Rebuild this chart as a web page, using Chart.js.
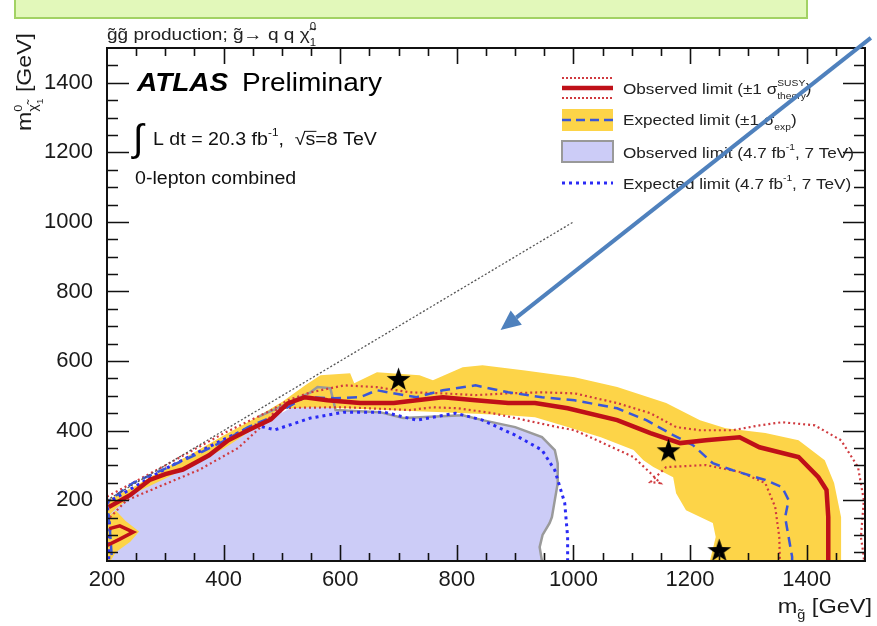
<!DOCTYPE html>
<html><head><meta charset="utf-8">
<script src="https://cdn.jsdelivr.net/npm/chart.js@4.4.1/dist/chart.umd.min.js"></script>
<style>
html,body{margin:0;padding:0;background:#fff;}
#wrap{position:relative;width:877px;height:626px;overflow:hidden;background:#fff;}
#box{position:absolute;left:14px;top:-3px;width:790px;height:18px;background:#e2f8ba;border:2px solid #a2d264;}
canvas{position:absolute;left:0;top:0;}
</style></head><body>
<div id="wrap"><div id="box"></div><canvas id="c" width="877" height="626"></canvas></div>
<script>
// ---- tick labels ----
const xTickLabels = [200,400,600,800,1000,1200,1400];
const yTickLabels = [200,400,600,800,1000,1200,1400];

// ---- contours: [m_gluino, m_neutralino] in GeV ----
const obs7TeV = [[200,25],[200,185],[250,235],[300,272],[350,320],[400,365],[450,405],[480,432],[520,470],[549,510],[561,525],[583,522],[592,459],[668,453],[708,436],[810,444],[844,430],[900,410],[946,381],[968,344],[973,306],[973,249],[968,200],[963,151],[959,134],[947,100],[942,65],[946,25]];
const obs7TeVEdge = [[460,440],[500,470],[549,510],[561,525],[583,522],[592,459],[668,453],[708,436],[810,444],[844,430],[900,410],[946,381],[968,344],[973,306],[973,249],[968,200],[963,151],[959,134],[947,100],[942,65],[946,25]];
const exp7TeV = [[203,30],[205,120],[200,192],[302,292],[397,372],[454,416],[488,402],[549,436],[607,453],[675,453],[731,430],[798,450],[844,430],[900,387],[946,344],[968,286],[985,192],[990,94],[990,25]];
const expBand = [[200,150],[200,200],[250,242],[300,292],[350,338],[400,386],[450,432],[500,482],[540,530],[566,559],[617,565],[624,536],[663,568],[736,559],[759,545],[810,582],[844,588],[917,573],[1002,553],[1075,525],[1159,479],[1217,430],[1261,407],[1329,393],[1386,372],[1431,315],[1447,249],[1459,151],[1459,25],[1234,25],[1244,94],[1239,134],[1193,171],[1176,220],[1171,266],[1137,295],[1120,315],[1103,344],[1047,381],[990,410],[934,438],[888,444],[776,453],[680,459],[607,464],[549,467],[493,462],[470,420],[440,392],[400,348],[350,305],[300,262],[250,222],[215,175]];
const expBandLow = [[200,25],[200,150],[215,170],[232,140],[255,110],[240,80],[215,50],[206,25]];
const exp8TeV = [[208,42],[205,114],[200,194],[244,249],[302,292],[358,335],[403,372],[442,410],[481,438],[539,496],[590,493],[634,496],[663,516],[708,502],[731,496],[776,516],[832,530],[888,510],[946,496],[1002,487],[1075,464],[1125,430],[1171,387],[1205,358],[1239,306],[1273,286],[1329,258],[1358,237],[1369,200],[1363,151],[1369,94],[1375,37],[1375,25]];
const obs8TeV = [[203,180],[240,215],[273,258],[300,275],[330,288],[375,329],[408,372],[442,401],[481,432],[510,478],[539,496],[578,487],[634,479],[692,479],[731,487],[776,496],[832,487],[888,479],[934,479],[990,464],[1075,430],[1132,393],[1183,364],[1227,372],[1285,381],[1319,352],[1386,324],[1420,266],[1434,229],[1437,151],[1437,25]];
const obs8TeVLoop = [[200,70],[222,88],[245,108],[222,126],[204,118]];
const obs8TeVUp = [[200,210],[300,300],[400,392],[481,458],[510,487],[549,510],[607,530],[663,525],[719,510],[776,507],[832,502],[888,507],[946,510],[1002,507],[1075,479],[1132,450],[1176,410],[1217,401],[1273,401],[1319,415],[1358,424],[1414,415],[1459,372],[1488,295],[1498,200],[1493,94],[1498,37],[1498,25]];
const obs8TeVDown = [[205,150],[234,200],[358,287],[425,350],[470,420],[493,465],[607,467],[719,459],[759,467],[803,464],[861,450],[917,430],[973,410],[1002,401],[1047,367],[1103,324],[1132,278],[1149,249],[1132,252],[1159,295],[1227,301],[1285,281],[1329,249],[1346,180],[1353,94],[1354,25]];
const kinematicLimit = [[200,200],[1000,1000]];
const benchmarkStars = [[700,550],[1163,345],[1250,58]];
const arrowFrom = [1510,1529];
const arrowTo = [875,689];

const FONT = '"Liberation Sans", Arial, Helvetica, sans-serif';
const toXY = a => a.map(p => ({x:p[0], y:p[1]}));
const T = 'rgba(0,0,0,0)';
function line(data, o){ return Object.assign({data: toXY(data), pointRadius:0, pointHoverRadius:0, fill:false, tension:0, borderColor:T, backgroundColor:T, borderWidth:0}, o); }

function makeStar(r){
  const s = Math.ceil(r*2+2), c = document.createElement('canvas'); c.width = c.height = s;
  const g = c.getContext('2d'); g.fillStyle = '#000'; g.beginPath();
  for (let i=0;i<10;i++){ const rr = i%2 ? r*0.4 : r; const a = -Math.PI/2 + i*Math.PI/5; g.lineTo(s/2 + rr*Math.cos(a), s/2 + 1.5 + rr*Math.sin(a)); }
  g.closePath(); g.fill(); return c;
}
const starImg = makeStar(12.5);

// rich text: parts [{t, s, dy, w, keep, over}]
function rich(ctx, x, y, parts, size, stretch, color, align){
  ctx.save(); ctx.translate(x, y); ctx.scale(stretch, 1); ctx.fillStyle = color; ctx.strokeStyle = color; ctx.textBaseline = 'alphabetic'; ctx.textAlign = 'left';
  const f = p => (p.w ? p.w + ' ' : '') + (size*(p.s||1)).toFixed(1) + 'px ' + FONT;
  let total = 0, pend = 0;
  parts.forEach(p => { ctx.font = f(p); const w = ctx.measureText(p.t).width; if (p.keep) pend = w; else { total += Math.max(w, pend); pend = 0; } });
  let cx = align === 'right' ? -total : 0; pend = 0;
  parts.forEach(p => {
    ctx.font = f(p); const w = ctx.measureText(p.t).width; const yy = (p.dy||0)*size;
    ctx.fillText(p.t, cx, yy);
    if (p.over){ ctx.lineWidth = 1; ctx.beginPath(); ctx.moveTo(cx-1, yy - size*0.78); ctx.lineTo(cx + w + 1, yy - size*0.78); ctx.stroke(); }
    if (p.keep) pend = w; else { cx += Math.max(w, pend); pend = 0; }
  });
  ctx.restore();
}

const deco = {
  id:'deco',
  afterDraw(chart){
    const ctx = chart.ctx, a = chart.chartArea, sx = chart.scales.x, sy = chart.scales.y;
    ctx.save();
    // frame
    ctx.strokeStyle = '#111'; ctx.lineWidth = 2;
    ctx.strokeRect(a.left, a.top, a.right - a.left, a.bottom - a.top);
    ctx.lineWidth = 1.6; ctx.beginPath();
    for (let v = 250; v < 1500; v += 50){
      const px = Math.round(sx.getPixelForValue(v)) + 0.5; const L = v % 200 === 0 ? 16 : 8;
      ctx.moveTo(px, a.bottom); ctx.lineTo(px, a.bottom - L);
      ctx.moveTo(px, a.top); ctx.lineTo(px, a.top + L);
    }
    for (let v = 50; v < 1500; v += 50){
      const py = Math.round(sy.getPixelForValue(v)) + 0.5; const L = v % 200 === 0 ? 22 : 11;
      ctx.moveTo(a.left, py); ctx.lineTo(a.left + L, py);
      ctx.moveTo(a.right, py); ctx.lineTo(a.right - L, py);
    }
    ctx.stroke();

    // header
    rich(ctx, 107, 40, [{t:'g\u0303g\u0303 production; g\u0303\u2192 q q \u03C7\u0303'},{t:'0', s:0.6, dy:-0.6, keep:true},{t:'1', s:0.6, dy:0.35}], 17, 1.12, '#222');
    // axis titles
    rich(ctx, 872, 613, [{t:'m'},{t:'g\u0303', s:0.62, dy:0.3},{t:' [GeV]'}], 21, 1.12, '#1a1a1a', 'right');
    ctx.save(); ctx.translate(31, 33); ctx.rotate(-Math.PI/2);
    rich(ctx, 0, 0, [{t:'m'},{t:'0', s:0.55, dy:-0.45, keep:true},{t:'\u03C7\u0303', s:0.62, dy:0.3},{t:'1', s:0.45, dy:0.55},{t:' [GeV]'}], 21, 1.1, '#1a1a1a', 'right');
    ctx.restore();

    // ATLAS label
    rich(ctx, 137, 91, [{t:'ATLAS', w:'italic bold'}], 25, 1.12, '#000');
    rich(ctx, 242, 91, [{t:'Preliminary'}], 25, 1.12, '#000');
    ctx.save(); ctx.fillStyle = '#000'; ctx.font = '38px ' + FONT; ctx.fillText('\u222B', 133, 151); ctx.restore();
    rich(ctx, 153, 145, [{t:'L dt = 20.3 fb'},{t:'-1', s:0.6, dy:-0.5},{t:',  \u221A'},{t:'s', over:true},{t:'=8 TeV'}], 17.5, 1.12, '#111');
    rich(ctx, 135, 184, [{t:'0-lepton combined'}], 17.5, 1.12, '#111');

    // legend
    const lx0 = 562, lx1 = 613;
    ctx.lineCap = 'butt';
    ctx.setLineDash([2,2]); ctx.strokeStyle = '#d03a3f'; ctx.lineWidth = 2;
    ctx.beginPath(); ctx.moveTo(lx0, 78); ctx.lineTo(lx1, 78); ctx.moveTo(lx0, 98); ctx.lineTo(lx1, 98); ctx.stroke();
    ctx.setLineDash([]); ctx.strokeStyle = '#bf1018'; ctx.lineWidth = 4.5;
    ctx.beginPath(); ctx.moveTo(lx0, 88); ctx.lineTo(lx1, 88); ctx.stroke();
    ctx.fillStyle = '#fdd448'; ctx.fillRect(lx0, 109, lx1 - lx0, 22);
    ctx.setLineDash([9,5]); ctx.strokeStyle = '#3a56d8'; ctx.lineWidth = 2.5;
    ctx.beginPath(); ctx.moveTo(lx0, 120); ctx.lineTo(lx1, 120); ctx.stroke();
    ctx.setLineDash([]); ctx.fillStyle = '#ccccf7'; ctx.fillRect(lx0, 141, lx1 - lx0, 21);
    ctx.strokeStyle = '#999'; ctx.lineWidth = 2; ctx.strokeRect(lx0, 141, lx1 - lx0, 21);
    ctx.setLineDash([3,4]); ctx.strokeStyle = '#2a2af5'; ctx.lineWidth = 3;
    ctx.beginPath(); ctx.moveTo(lx0, 183); ctx.lineTo(lx1, 183); ctx.stroke(); ctx.setLineDash([]);
    const tx = 623, lc = '#222', ls = 15.3, st = 1.12;
    rich(ctx, tx, 94, [{t:'Observed limit (\u00B11 \u03C3'},{t:'SUSY', s:0.6, dy:-0.55, keep:true},{t:'theory', s:0.6, dy:0.35},{t:')'}], ls, st, lc);
    rich(ctx, tx, 125, [{t:'Expected limit (\u00B11 \u03C3'},{t:'exp', s:0.6, dy:0.35},{t:')'}], ls, st, lc);
    rich(ctx, tx, 158, [{t:'Observed limit (4.7 fb'},{t:'-1', s:0.6, dy:-0.5},{t:', 7 TeV)'}], ls, st, lc);
    rich(ctx, tx, 189, [{t:'Expected limit (4.7 fb'},{t:'-1', s:0.6, dy:-0.5},{t:', 7 TeV)'}], ls, st, lc);

    // slide arrow
    const x1 = sx.getPixelForValue(arrowFrom[0]), y1 = sy.getPixelForValue(arrowFrom[1]);
    const x2 = sx.getPixelForValue(arrowTo[0]), y2 = sy.getPixelForValue(arrowTo[1]);
    const ang = Math.atan2(y2 - y1, x2 - x1), hl = 20, hw = 9;
    const bx = x2 - hl*Math.cos(ang), by = y2 - hl*Math.sin(ang);
    ctx.strokeStyle = '#4f81bd'; ctx.fillStyle = '#4f81bd'; ctx.lineWidth = 4;
    ctx.beginPath(); ctx.moveTo(x1, y1); ctx.lineTo(bx, by); ctx.stroke();
    ctx.beginPath(); ctx.moveTo(x2, y2);
    ctx.lineTo(bx + hw*Math.sin(ang), by - hw*Math.cos(ang));
    ctx.lineTo(bx - hw*Math.sin(ang), by + hw*Math.cos(ang)); ctx.closePath(); ctx.fill();
    ctx.restore();
  }
};

new Chart(document.getElementById('c'), {
  type:'line',
  data:{ datasets:[
    line(benchmarkStars, {pointStyle: starImg, pointRadius:12, showLine:false, order:0}),
    line(kinematicLimit, {borderColor:'#555', borderWidth:1.3, borderDash:[2,2], order:1}),
    line(obs8TeV, {borderColor:'#bf1018', borderWidth:4.5, order:2}),
    line(obs8TeVLoop, {borderColor:'#bf1018', borderWidth:3.5, order:2}),
    line(exp8TeV, {borderColor:'#3a56d8', borderWidth:2.5, borderDash:[10,6], order:3}),
    line(obs8TeVUp, {borderColor:'#d03a3f', borderWidth:2.2, borderDash:[2,3], order:4}),
    line(obs8TeVDown, {borderColor:'#d03a3f', borderWidth:2.2, borderDash:[2,3], order:4}),
    line(exp7TeV, {borderColor:'#2a2af5', borderWidth:3, borderDash:[3,4], order:5}),
    line(obs7TeVEdge, {borderColor:'#9a9a9a', borderWidth:2.5, order:6}),
    line(expBand, {fill:'shape', backgroundColor:'#fdd448', order:7}),
    line(expBandLow, {fill:'shape', backgroundColor:'#fdd448', order:7}),
    line(obs7TeV, {fill:'shape', backgroundColor:'#ccccf7', order:8})
  ]},
  options:{
    responsive:false, animation:false, events:[],
    layout:{padding:{top:48, right:3, left:0, bottom:0}},
    plugins:{legend:{display:false}, tooltip:{enabled:false}},
    scales:{
      x:{type:'linear', min:200, max:1500, grid:{display:false, drawTicks:false}, border:{display:false},
         afterBuildTicks: s => { s.ticks = xTickLabels.map(v => ({value:v})); },
         afterFit: s => { s.height = 65; },
         ticks:{autoSkip:false, maxRotation:0, padding:6, color:'#1a1a1a', font:{family:FONT, size:22}, callback: v => String(v)}},
      y:{type:'linear', min:25, max:1500, grid:{display:false, drawTicks:false}, border:{display:false},
         afterBuildTicks: s => { s.ticks = yTickLabels.map(v => ({value:v})); },
         afterFit: s => { s.width = 107; },
         ticks:{autoSkip:false, padding:14, color:'#1a1a1a', font:{family:FONT, size:22}, callback: v => String(v)}}
    }
  },
  plugins:[deco]
});
</script>
</body></html>
